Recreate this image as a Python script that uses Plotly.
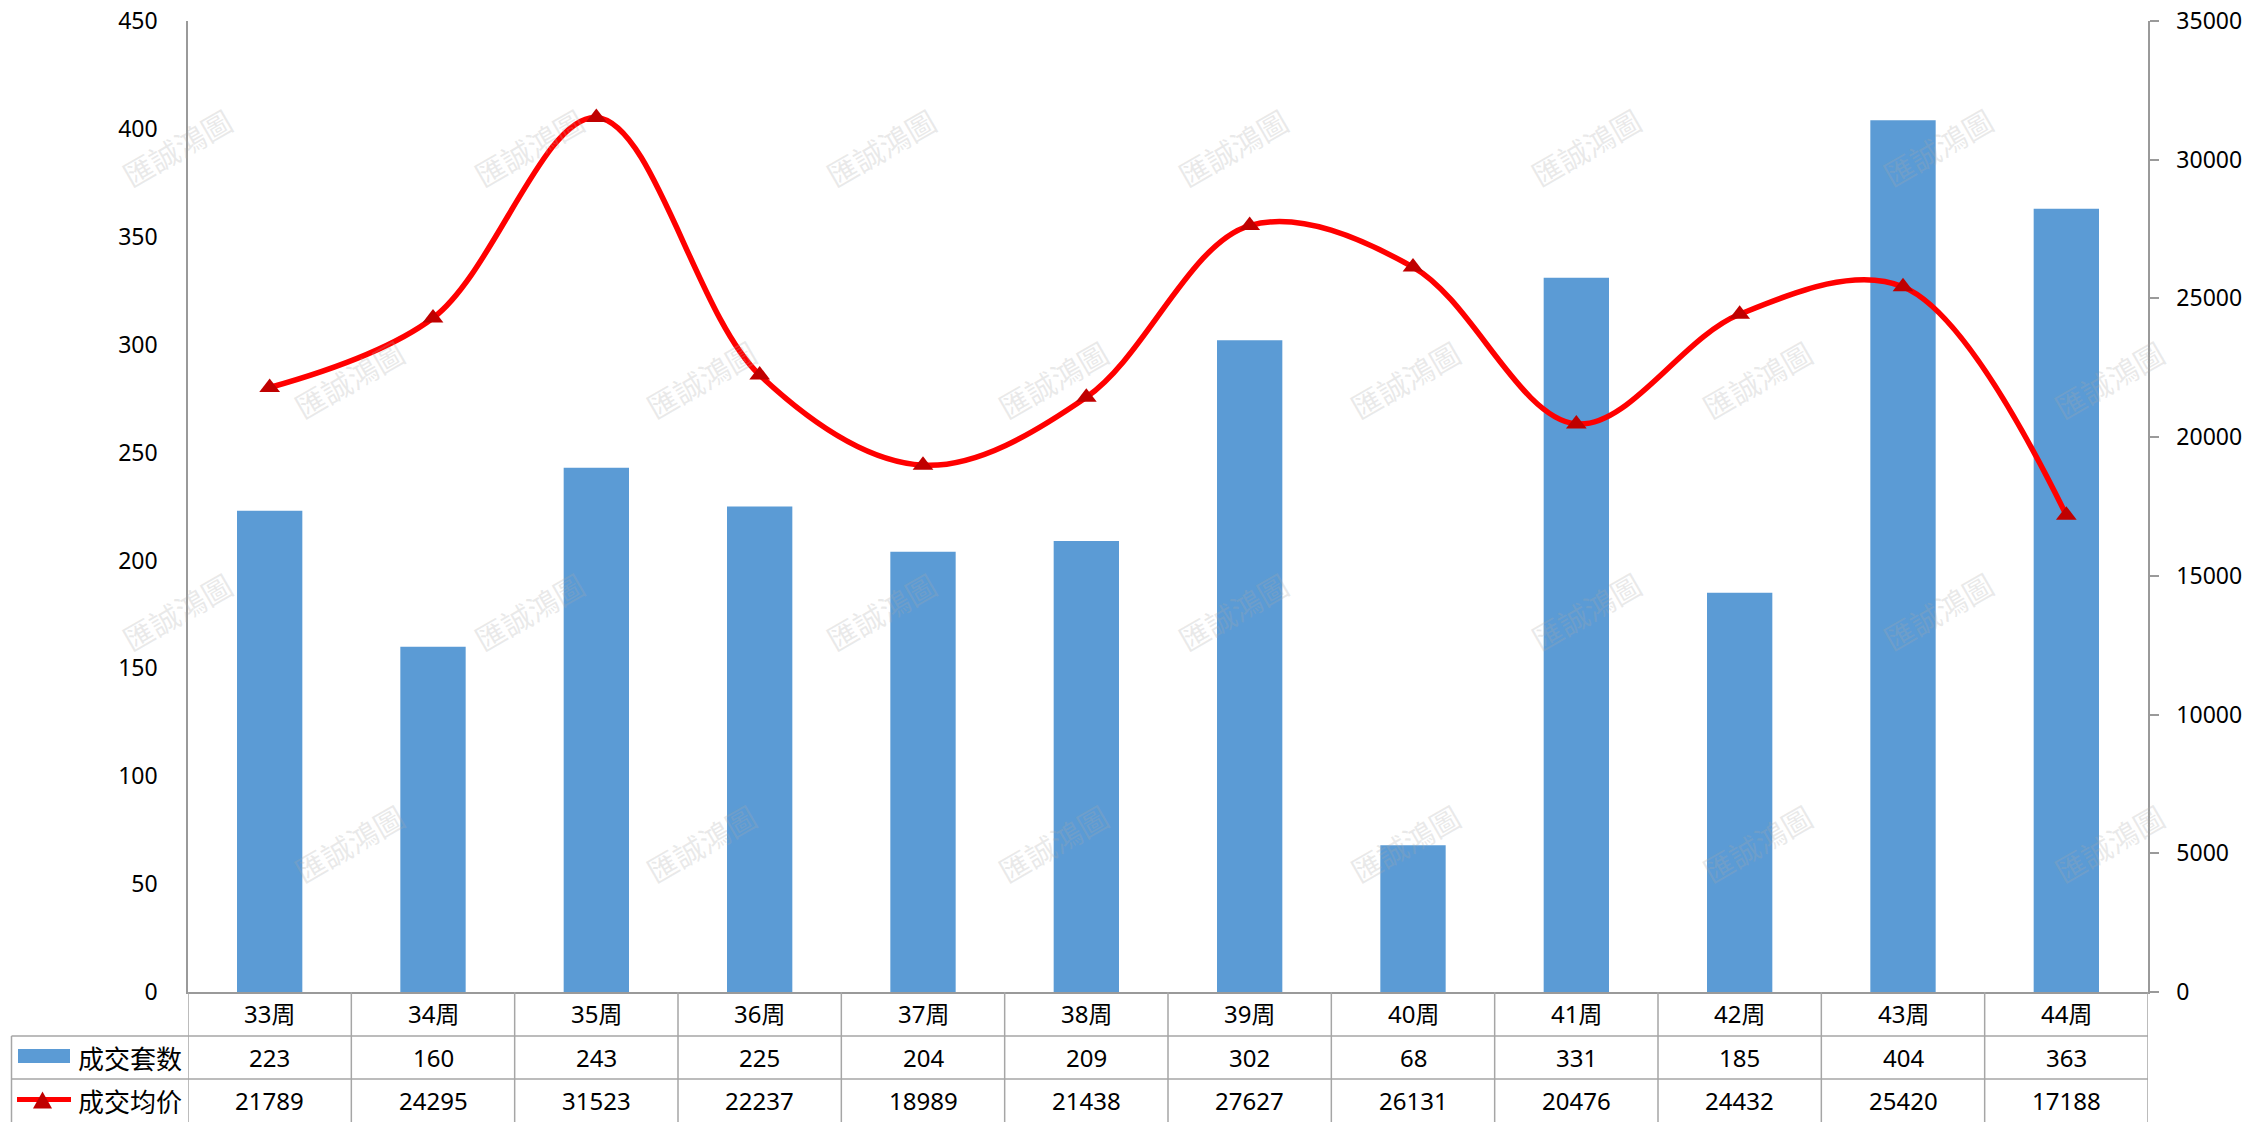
import plotly.graph_objects as go

# ---- data ----
weeks = ["33周", "34周", "35周", "36周", "37周", "38周", "39周", "40周", "41周", "42周", "43周", "44周"]
deal_units = [223, 160, 243, 225, 204, 209, 302, 68, 331, 185, 404, 363]
avg_price = [21789, 24295, 31523, 22237, 18989, 21438, 27627, 26131, 20476, 24432, 25420, 17188]
bar_name = "成交套数"
line_name = "成交均价"
watermark_text = "匯誠鴻圖"

# ---- layout geometry (pixels) ----
W, H = 2244, 1122
L, R, T, B = 188, 96, 21, 130
PW, PH = W - L - R, H - T - B
base_y = T + PH


def px(xp):
    return (xp - L) / PW


def py(yp):
    return (base_y - yp) / PH


FONT = "Noto Sans, Noto Sans CJK SC, sans-serif"
CJK = "Noto Sans CJK SC, Noto Sans, sans-serif"
GRID = "#A6A6A6"
AXIS = "#9A9A9A"
FS_AX = 23
FS_TB = 24

fig = go.Figure()
fig.add_trace(go.Bar(
    x=weeks, y=deal_units, name=bar_name, marker=dict(color="#5B9BD5", line=dict(width=0)),
    width=0.4, yaxis="y", showlegend=False,
))
fig.add_trace(go.Scatter(
    x=weeks, y=avg_price, name=line_name, mode="lines+markers", yaxis="y2",
    line=dict(color="#FF0000", width=5.5, shape="spline", smoothing=1),
    marker=dict(symbol="triangle-up", size=18, color="#C00000"),
    showlegend=False,
))

shapes = []
annotations = []

# watermarks (decorative)
for r in range(7):
    yd = -52 + r * 162
    x0 = 230 if r % 2 == 0 else 110
    for k in range(7):
        xd = x0 + k * 246
        xf, yf = xd * 1.431 + 20, yd * 1.431 - 10
        if not (90 < xf < W - 90 and 60 < yf < H - 60):
            continue
        annotations.append(dict(
            xref="paper", yref="paper", x=px(xf), y=py(yf), xanchor="center", yanchor="middle",
            text=watermark_text, showarrow=False, textangle=-30,
            font=dict(family=CJK, size=30, color="rgba(170,170,170,0.25)"),
        ))

# table grid
row1_bot, row2_bot, table_bot = 1036, 1079, H
table_left = 11.5
for i in range(len(weeks) + 1):
    shapes.append(dict(type="line", xref="x", yref="paper", x0=i - 0.5, x1=i - 0.5,
                       y0=0, y1=py(table_bot), line=dict(color=GRID, width=1.5)))
for yy in (row1_bot, row2_bot):
    shapes.append(dict(type="line", xref="paper", yref="paper", x0=px(table_left), x1=1,
                       y0=py(yy), y1=py(yy), line=dict(color=GRID, width=1.5)))
shapes.append(dict(type="line", xref="paper", yref="paper", x0=px(table_left), x1=px(table_left),
                   y0=py(row1_bot), y1=py(table_bot), line=dict(color=GRID, width=1.5)))

# table texts
rows_y = [py((base_y + row1_bot) / 2), py((row1_bot + row2_bot) / 2), py((row2_bot + table_bot) / 2)]
for w, u, p in zip(weeks, deal_units, avg_price):
    for txt, yy in ((w, rows_y[0]), (str(u), rows_y[1]), (str(p), rows_y[2])):
        annotations.append(dict(xref="x", yref="paper", x=w, y=yy, text=txt,
                                xanchor="center", yanchor="middle", showarrow=False,
                                font=dict(family=FONT, size=FS_TB, color="#000000")))

# legend keys in table
shapes.append(dict(type="rect", xref="paper", yref="paper", x0=px(18), x1=px(70),
                   y0=py(1063), y1=py(1049), fillcolor="#5B9BD5", line=dict(width=0)))
ly = (row2_bot + table_bot) / 2 - 1
shapes.append(dict(type="line", xref="paper", yref="paper", x0=px(17), x1=px(71),
                   y0=py(ly), y1=py(ly), line=dict(color="#FF0000", width=5)))
shapes.append(dict(type="path", xref="paper", yref="paper",
                   path="M {},{} L {},{} L {},{} Z".format(px(33), py(ly + 9), px(52), py(ly + 9), px(42.5), py(ly - 8)),
                   fillcolor="#C00000", line=dict(width=0)))
for txt, yy in ((bar_name, rows_y[1]), (line_name, rows_y[2])):
    annotations.append(dict(xref="paper", yref="paper", x=px(76), y=yy,
                            xanchor="left", yanchor="middle", text=txt, showarrow=False,
                            font=dict(family=CJK, size=26, color="#000000")))

fig.update_layout(
    width=W, height=H,
    margin=dict(l=L, r=R, t=T, b=B, autoexpand=False),
    paper_bgcolor="#FFFFFF", plot_bgcolor="#FFFFFF",
    bargap=0.6,
    xaxis=dict(type="category", range=[-0.5, len(weeks) - 0.5], showticklabels=False, ticks="",
               showgrid=False, zeroline=False, showline=True, linecolor=AXIS, linewidth=1.5),
    yaxis=dict(range=[0, 450], dtick=50, showgrid=False, zeroline=False, showline=True,
               linecolor=AXIS, linewidth=1.5, ticks="", ticklabelstandoff=24,
               tickfont=dict(family=FONT, size=FS_AX, color="#000000")),
    yaxis2=dict(range=[0, 35000], dtick=5000, tickformat="d", overlaying="y", side="right",
                showgrid=False, zeroline=False, showline=True, linecolor=AXIS, linewidth=1.5,
                ticks="outside", ticklen=9, tickcolor=AXIS, tickwidth=1.5, ticklabelstandoff=13,
                tickfont=dict(family=FONT, size=FS_AX, color="#000000")),
    shapes=shapes,
    annotations=annotations,
)

fig.write_html(
    "out.html",
    config={"displayModeBar": False},
    post_script="document.body.style.margin='0';document.body.style.overflow='hidden';",
)
